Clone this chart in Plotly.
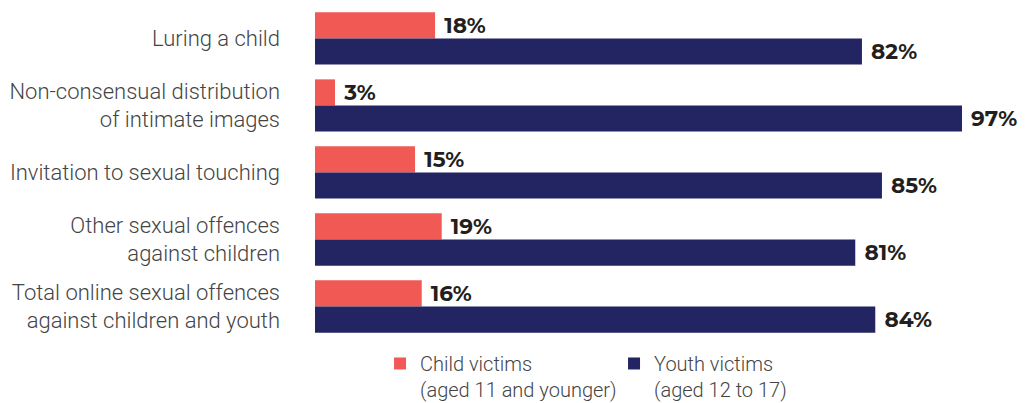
import plotly.graph_objects as go

categories = [
    "Luring a child",
    "Non-consensual distribution<br>of intimate images",
    "Invitation to sexual touching",
    "Other sexual offences<br>against children",
    "Total online sexual offences<br>against children and youth",
]
child_values = [18, 3, 15, 19, 16]
youth_values = [82, 97, 85, 81, 84]
child_name = "Child victims<br>(aged 11 and younger)"
youth_name = "Youth victims<br>(aged 12 to 17)"

child_color = "#F15A54"
youth_color = "#222562"
label_font = dict(family="Montserrat, Inter, Open Sans, sans-serif", size=24, color="#231F20", weight=700)

fig = go.Figure()
fig.add_trace(go.Bar(
    y=categories, x=child_values, orientation="h", name=child_name,
    marker=dict(color=child_color, line=dict(width=0)),
    texttemplate=" %{x}%", textposition="outside", textfont=label_font,
    cliponaxis=False,
))
fig.add_trace(go.Bar(
    y=categories, x=youth_values, orientation="h", name=youth_name,
    marker=dict(color=youth_color, line=dict(width=0)),
    texttemplate=" %{x}%", textposition="outside", textfont=label_font,
    cliponaxis=False,
))

# page body has an 8px margin, so the figure is sized to fill the rest of the window
fig.update_layout(
    width=1017, height=395,
    margin=dict(l=307, r=43, t=0, b=63, autoexpand=False),
    barmode="group", bargap=0.22, bargroupgap=0,
    plot_bgcolor="white", paper_bgcolor="white",
    font=dict(family="Roboto, sans-serif", color="#444444"),
    showlegend=True,
    legend=dict(
        orientation="h", x=0.0975, y=-0.012, xanchor="left", yanchor="top",
        valign="top",
        font=dict(family="Roboto, sans-serif", size=20, color="#444444", weight=300),
        traceorder="normal", itemwidth=30, entrywidth=189,
    ),
    xaxis=dict(range=[0, 100], visible=False, showgrid=False, zeroline=False),
    yaxis=dict(
        range=[4.5, -0.455], showgrid=False, zeroline=False, showline=False,
        automargin=False,
        ticks="", tickfont=dict(family="Roboto, sans-serif", size=22, color="#444444", weight=300),
        ticklabelstandoff=34,
    ),
)

fig.write_html("out.html")
